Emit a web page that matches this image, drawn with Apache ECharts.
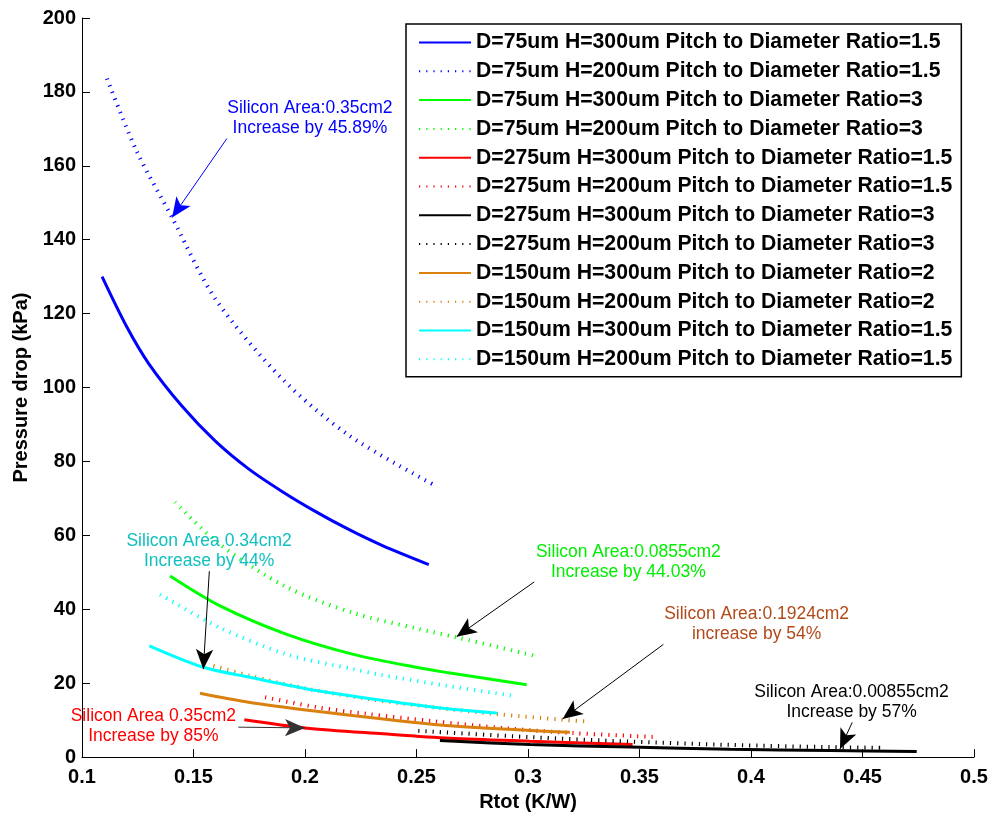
<!DOCTYPE html>
<html><head><meta charset="utf-8">
<script src="https://cdn.jsdelivr.net/npm/echarts@6/dist/echarts.min.js"></script>
<style>html,body{margin:0;padding:0;background:#fff}#c{width:998px;height:817px}</style>
</head><body><div id="c"></div>
<script>
// ---- series names / styles ----
const seriesNames = [
  'D=75um H=300um Pitch to Diameter Ratio=1.5',
  'D=75um H=200um Pitch to Diameter Ratio=1.5',
  'D=75um H=300um Pitch to Diameter Ratio=3',
  'D=75um H=200um Pitch to Diameter Ratio=3',
  'D=275um H=300um Pitch to Diameter Ratio=1.5',
  'D=275um H=200um Pitch to Diameter Ratio=1.5',
  'D=275um H=300um Pitch to Diameter Ratio=3',
  'D=275um H=200um Pitch to Diameter Ratio=3',
  'D=150um H=300um Pitch to Diameter Ratio=2',
  'D=150um H=200um Pitch to Diameter Ratio=2',
  'D=150um H=300um Pitch to Diameter Ratio=1.5',
  'D=150um H=200um Pitch to Diameter Ratio=1.5'
];
const seriesColors = ['#0000ff','#0000ff','#00ff00','#00ff00','#ff0000','#ff0000','#000000','#000000','#d9800f','#d9800f','#00ffff','#00ffff'];
const seriesDotted = [false,true,false,true,false,true,false,true,false,true,false,true];

// ---- data [Rtot (K/W), Pressure drop (kPa)] ----
const blueSolid   = [[0.109,130],[0.12,116.5],[0.1299,106.5],[0.1448,95],[0.1598,85.5],[0.1747,78],[0.1897,71.9],[0.2046,66.5],[0.2196,61.6],[0.2345,57.3],[0.2555,52.1]];
const blueDotted  = [[0.1112,183.6],[0.1245,164],[0.1404,146],[0.1598,124],[0.1897,102.4],[0.2196,87.1],[0.2592,73.2]];
const greenSolid  = [[0.1395,49],[0.1619,40.9],[0.1918,33.2],[0.2217,27.8],[0.2516,24.1],[0.2635,22.9],[0.2994,19.6]];
const greenDotted = [[0.1417,69],[0.1619,57.5],[0.1918,46],[0.2217,39],[0.2501,34.8],[0.268,32.4],[0.3031,27.4]];
const redSolid    = [[0.1728,10.1],[0.2,7.9],[0.2351,6.3],[0.265,5.1],[0.3009,4.3],[0.3469,3.4]];
const redDotted   = [[0.1821,16.2],[0.2052,13.5],[0.2277,11.7],[0.2576,9.7],[0.29,7.8],[0.3203,6.5],[0.3584,5.4]];
const blackSolid  = [[0.2605,4.5],[0.3009,3.4],[0.3457,2.7],[0.3906,2.1],[0.4354,1.8],[0.4743,1.5]];
const blackDotted = [[0.2508,7.1],[0.3009,5.4],[0.3457,4.2],[0.3906,3.3],[0.4354,2.7],[0.4601,2.5]];
const orangeSolid = [[0.1529,17.3],[0.1753,14.8],[0.2052,12.4],[0.2351,10.3],[0.265,8.5],[0.3188,6.7]];
const orangeDotted= [[0.1589,24.7],[0.1753,22.0],[0.2,18.6],[0.23,15.6],[0.26,13.3],[0.2867,11.6],[0.3158,10.1],[0.3256,9.7]];
const cyanSolid   = [[0.1302,30.1],[0.1544,24.3],[0.1753,21.6],[0.2052,18.0],[0.2351,15.3],[0.265,13.0],[0.2863,11.9]];
const cyanDotted  = [[0.135,44],[0.1619,35],[0.1918,27.8],[0.2217,23.8],[0.2336,22.3],[0.2635,19.3],[0.2934,16.6]];
const allData = [blueSolid,blueDotted,greenSolid,greenDotted,redSolid,redDotted,blackSolid,blackDotted,orangeSolid,orangeDotted,cyanSolid,cyanDotted];

// ---- annotations ----
const annotTexts = [
  'Silicon Area:0.35cm2\nIncrease by 45.89%',
  'Silicon Area 0.34cm2\nIncrease by 44%',
  'Silicon Area 0.35cm2\nIncrease by 85%',
  'Silicon Area:0.0855cm2\nIncrease by 44.03%',
  'Silicon Area:0.1924cm2\nincrease by 54%',
  'Silicon Area:0.00855cm2\nIncrease by 57%'
];
const annotPos    = [[0.2022,172.8],[0.157,55.8],[0.132,8.3],[0.345,52.8],[0.4025,36.1],[0.4451,14.8]];
const annotColors = ['#0000ff','#10c0c0','#ff0000','#00ee00','#b04a1a','#000000'];
const arrowFrom   = [[0.165,167.4],[0.1571,50.3],[0.1701,8.1],[0.3028,47.4],[0.3607,30.5],[0.4454,9.4]];
const arrowTo     = [[0.1404,146],[0.1544,23.8],[0.2,7.9],[0.268,32.6],[0.3155,10.3],[0.4399,2.2]];
const arrowColors = ['#0000ff','#000000','#333333','#000000','#000000','#000000'];

// ---- axes ----
const xMin = 0.1, xMax = 0.5, xStep = 0.05;
const yMin = 0, yMax = 200, yStep = 20;
const xTitle = 'Rtot (K/W)';
const yTitle = 'Pressure drop (kPa)';

const FONT = '"Liberation Sans", Arial, Helvetica, sans-serif';
const chart = echarts.init(document.getElementById('c'), null, {renderer:'canvas'});

const series = allData.map((d, i) => ({
  type: 'line',
  name: seriesNames[i],
  data: d,
  symbol: 'none',
  showSymbol: false,
  smooth: 0.3,
  color: seriesColors[i],
  lineStyle: seriesDotted[i]
    ? {color: seriesColors[i], width: 4, type: [1.2, 6], cap: 'butt'}
    : {color: seriesColors[i], width: 3, type: 'solid'},
  z: 3,
  silent: true
}));

series.push({
  type: 'scatter',
  name: 'annotations',
  data: annotPos.map((p, i) => ({value: p, name: annotTexts[i], label: {color: annotColors[i]}})),
  symbolSize: 1,
  itemStyle: {color: 'rgba(0,0,0,0)', opacity: 1},
  silent: true,
  z: 10,
  label: {
    show: true, position: 'inside', formatter: p => p.name, opacity: 1,
    textBorderWidth: 0, textShadowBlur: 0,
    fontFamily: FONT, fontSize: 17.5, lineHeight: 20, align: 'center', verticalAlign: 'middle'
  },
  markLine: {
    silent: true,
    symbol: ['none', 'arrow'],
    symbolSize: [13, 20],
    label: {show: false},
    animation: false,
    data: arrowFrom.map((f, i) => [
      {coord: f, lineStyle: {color: arrowColors[i], width: 1, type: 'solid', opacity: 1}, itemStyle: {color: arrowColors[i]}},
      {coord: arrowTo[i]}
    ])
  }
});

chart.setOption({
  animation: false,
  backgroundColor: '#fff',
  grid: {left: 82, right: 24, top: 18, bottom: 57, containLabel: false},
  xAxis: {
    type: 'value', min: xMin, max: xMax, interval: xStep,
    name: xTitle, nameLocation: 'middle', nameGap: 33,
    nameTextStyle: {fontFamily: FONT, fontWeight: 'bold', fontSize: 20, color: '#000'},
    axisLine: {show: true, onZero: false, lineStyle: {color: '#000', width: 1}},
    axisTick: {show: true, inside: true, length: 8, lineStyle: {color: '#000'}},
    axisLabel: {fontFamily: FONT, fontWeight: 'bold', fontSize: 20, color: '#000', margin: 10},
    splitLine: {show: false}
  },
  yAxis: {
    type: 'value', min: yMin, max: yMax, interval: yStep,
    name: yTitle, nameLocation: 'middle', nameGap: 51, nameRotate: 90,
    nameTextStyle: {fontFamily: FONT, fontWeight: 'bold', fontSize: 20, color: '#000'},
    axisLine: {show: true, onZero: false, lineStyle: {color: '#000', width: 1}},
    axisTick: {show: true, inside: true, length: 8, lineStyle: {color: '#000'}},
    axisLabel: {fontFamily: FONT, fontWeight: 'bold', fontSize: 20, color: '#000', margin: 6},
    splitLine: {show: false}
  },
  legend: {
    data: seriesNames,
    orient: 'vertical',
    left: 406, top: 24,
    padding: [8, 9, 7, 12],
    itemGap: 7.8,
    itemWidth: 52, itemHeight: 14,
    borderColor: '#000', borderWidth: 1.5,
    backgroundColor: '#fff',
    selectedMode: false,
    itemStyle: {opacity: 0},
    textStyle: {fontFamily: FONT, fontWeight: 'bold', fontSize: 21.2, color: '#000'}
  },
  series: series
});
</script>
</body></html>
